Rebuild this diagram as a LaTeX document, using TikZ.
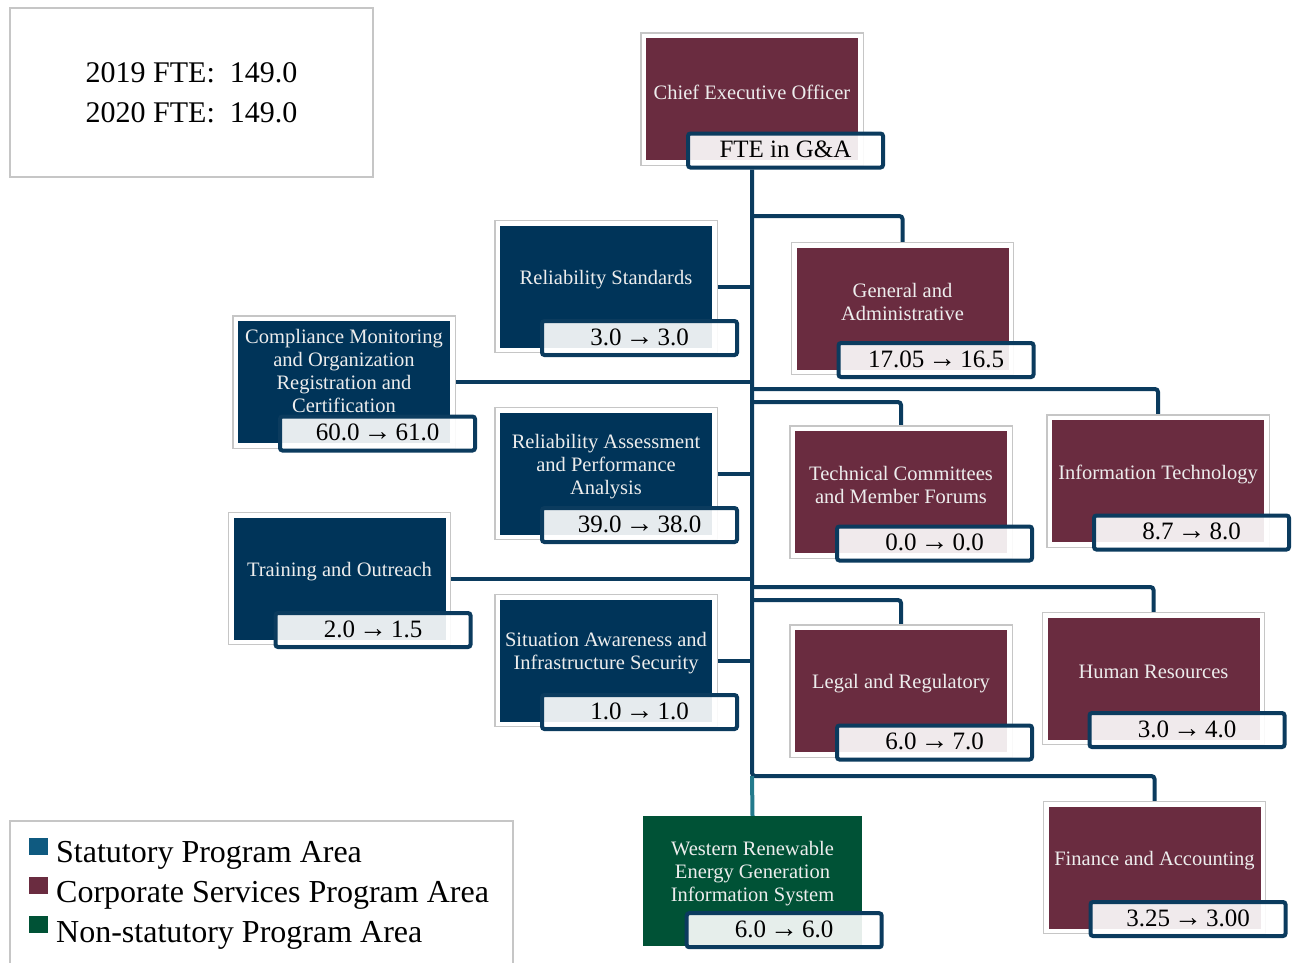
\documentclass[tikz,border=0pt]{standalone}
\usepackage{fontspec}
\setmainfont{Liberation Serif}
\usetikzlibrary{positioning,backgrounds}
\definecolor{statnavy}{HTML}{003459}
\definecolor{corpred}{HTML}{6A2C40}
\definecolor{nongreen}{HTML}{005236}
\definecolor{linknavy}{HTML}{0B3B5E}
\definecolor{linkteal}{HTML}{237A8C}
\definecolor{framegrey}{HTML}{C6C6C6}
\definecolor{legblue}{HTML}{0F5A80}
\newcommand\fteto{\hspace{4pt}{\fontsize{28}{28}\selectfont →}\hspace{4pt}}

\begin{document}
\begin{tikzpicture}[
  x=1pt, y=-1pt,
  unit/.style={minimum width=216.5pt, minimum height=126.5pt, inner sep=0pt, fill=#1, draw=white, line width=4.5pt, preaction={draw=framegrey, line width=7pt}},
  bare/.style={minimum width=219pt, minimum height=130pt, inner sep=0pt, fill=#1},
  utext/.style={text=white!93!black, font=\fontsize{20.5}{23}\selectfont, align=center, yshift=7pt},
  tag/.style={draw=linknavy, line width=4pt, fill=white, fill opacity=0.9, text opacity=1, rounded corners=2.5pt, minimum width=195pt, minimum height=34pt, inner sep=0pt, text height=17pt, text depth=2.5pt, font=\fontsize{25}{25}\selectfont},
  link/.style={draw=linknavy, line width=4pt, rounded corners=3pt},
  infobox/.style={draw=framegrey, line width=2pt, minimum width=363pt, minimum height=169pt, align=center, font=\fontsize{30}{40}\selectfont},
  swatch/.style={minimum width=19pt, minimum height=17pt, inner sep=0pt},
  legtext/.style={anchor=base west, inner sep=0pt, font=\fontsize{32}{40}\selectfont}
]
\useasboundingbox (0,0) rectangle (1293,962);

% totals and legend
\node[infobox] (total) at (191.5,92.5) {2019 FTE:\ \ 149.0\\2020 FTE:\ \ 149.0};
\node[draw=framegrey, line width=2pt, minimum width=503pt, minimum height=160pt] (legend) at (261.5,901) {};
\node[swatch, fill=legblue] (sw-stat) at (38.5,846) {};
\node[swatch, fill=corpred] (sw-corp) at (38.5,885) {};
\node[swatch, fill=nongreen] (sw-non) at (38.5,924) {};
\node[legtext] (leg-stat) at (56,862) {Statutory Program Area};
\node[legtext] (leg-corp) at (56,902) {Corporate Services Program Area};
\node[legtext] (leg-non) at (56,942) {Non-statutory Program Area};

% program areas
\node[unit=corpred, label={[utext]center:{Chief Executive Officer}}] (ceo) at (752,99) {};
\node[tag] (ceo-fte) at ([shift={(-77,-14)}]ceo.south east) {FTE in G\&A};

\node[unit=statnavy, label={[utext]center:{Reliability Standards}}] (relstd) at (606,286.5) {};
\node[tag] (relstd-fte) at ([shift={(-77,-14)}]relstd.south east) {3.0\fteto 3.0};

\node[unit=corpred, label={[utext]center:{General and\\Administrative}}] (gna) at (902.5,308.5) {};
\node[tag] (gna-fte) at ([shift={(-77,-14)}]gna.south east) {17.05\fteto 16.5};

\node[unit=statnavy, label={[utext, yshift=4pt]center:{Compliance Monitoring\\and Organization\\Registration and\\Certification}}] (cmorc) at (344,382) {};
\node[tag] (cmorc-fte) at ([shift={(-77,-14)}]cmorc.south east) {60.0\fteto 61.0};

\node[unit=statnavy, label={[utext]center:{Reliability Assessment\\and Performance\\Analysis}}] (relassess) at (606,473.5) {};
\node[tag] (relassess-fte) at ([shift={(-77,-14)}]relassess.south east) {39.0\fteto 38.0};

\node[unit=corpred, label={[utext]center:{Technical Committees\\and Member Forums}}] (techcom) at (901,492) {};
\node[tag] (techcom-fte) at ([shift={(-77,-14)}]techcom.south east) {0.0\fteto 0.0};

\node[unit=corpred, label={[utext]center:{Information Technology}}] (infotech) at (1158,481) {};
\node[tag] (infotech-fte) at ([shift={(-77,-14)}]infotech.south east) {8.7\fteto 8.0};

\node[unit=statnavy, label={[utext]center:{Training and Outreach}}] (train) at (339.5,578.5) {};
\node[tag] (train-fte) at ([shift={(-77,-14)}]train.south east) {2.0\fteto 1.5};

\node[unit=statnavy, label={[utext]center:{Situation Awareness and\\Infrastructure Security}}] (sitaware) at (606,660.5) {};
\node[tag] (sitaware-fte) at ([shift={(-77,-14)}]sitaware.south east) {1.0\fteto 1.0};

\node[unit=corpred, label={[utext]center:{Legal and Regulatory}}] (legal) at (901,691) {};
\node[tag] (legal-fte) at ([shift={(-77,-14)}]legal.south east) {6.0\fteto 7.0};

\node[unit=corpred, label={[utext]center:{Human Resources}}] (hr) at (1153.5,678.5) {};
\node[tag] (hr-fte) at ([shift={(-77,-14)}]hr.south east) {3.0\fteto 4.0};

\node[unit=corpred, label={[utext]center:{Finance and Accounting}}] (finance) at (1154.5,867.5) {};
\node[tag] (finance-fte) at ([shift={(-77,-14)}]finance.south east) {3.25\fteto 3.00};

\node[bare=nongreen, label={[utext]center:{Western Renewable\\Energy Generation\\Information System}}] (wregis) at (752.5,881) {};
\node[tag] (wregis-fte) at ([shift={(-78,-16)}]wregis.south east) {6.0\fteto 6.0};

% reporting lines
\coordinate (j-gna) at (752,216);
\coordinate (j-it) at (752,389);
\coordinate (j-tc) at (752,402);
\coordinate (j-hr) at (752,587);
\coordinate (j-legal) at (752,600);
\coordinate (j-fin) at (752,776);
\begin{scope}[on background layer]
\draw[link] (ceo |- ceo-fte.south) -- (j-fin) -| (finance.north);
\draw[link] (j-gna) -| (gna.north);
\draw[link] (j-it) -| (infotech.north);
\draw[link] (j-tc) -| (techcom.north);
\draw[link] (j-hr) -| (hr.north);
\draw[link] (j-legal) -| (legal.north);
\draw[link] (relstd.east) -- (relstd.east -| j-gna);
\draw[link] (cmorc.east) -- (cmorc.east -| j-gna);
\draw[link] (relassess.east) -- (relassess.east -| j-gna);
\draw[link] (train.east) -- (train.east -| j-gna);
\draw[link] (sitaware.east) -- (sitaware.east -| j-gna);
\draw[link, draw=linkteal] (j-fin) -- (wregis.north);
\end{scope}
\end{tikzpicture}
\end{document}
